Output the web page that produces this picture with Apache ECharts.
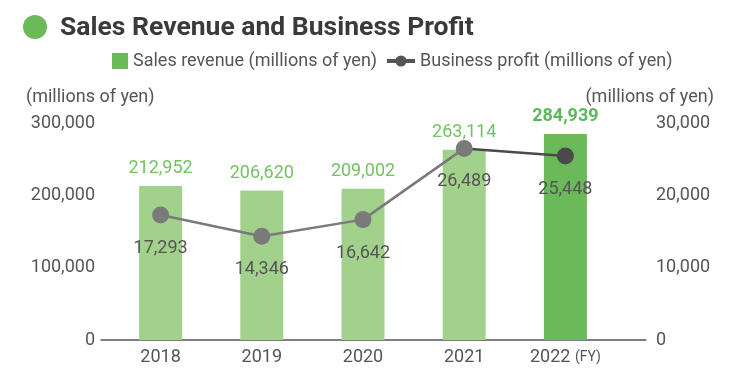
<!DOCTYPE html>
<html>
<head>
<meta charset="utf-8">
<script src="https://cdn.jsdelivr.net/npm/echarts@6/dist/echarts.min.js"></script>
<style>
html,body{margin:0;padding:0;background:#fff;}
#chart{width:741px;height:382px;}
</style>
</head>
<body>
<div id="chart"></div>
<script>
const categories = ['2018', '2019', '2020', '2021', '2022'];
const salesRevenue = [212952, 206620, 209002, 263114, 284939];
const businessProfit = [17293, 14346, 16642, 26489, 25448];
const leftTicks = { min: 0, max: 300000, interval: 100000 };
const rightTicks = { min: 0, max: 30000, interval: 10000 };
const titleText = 'Sales Revenue and Business Profit';
const revenueName = 'Sales revenue (millions of yen)';
const profitName = 'Business profit (millions of yen)';
const unitText = '(millions of yen)';

const FONT = 'Roboto';
const GRAY = '#555555';
const LIGHT_GREEN = '#a2d18c';
const DARK_GREEN = '#6aba5a';
const LINE_GRAY = '#7a7a7a';
const LINE_DARK = '#4a4a4a';

const chart = echarts.init(document.getElementById('chart'));

const last = businessProfit.length - 1;
const barData = salesRevenue.map((v, i) => {
  if (i === last) {
    return { value: v, itemStyle: { color: DARK_GREEN },
      label: { color: '#5cb85c', fontWeight: 'bold' } };
  }
  return v;
});
// earlier years segment (gray) and latest-year segment (dark)
const profitEarly = businessProfit.map((v, i) => (i < last ? v : '-'));
const profitLatest = businessProfit.map((v, i) => {
  if (i === last - 1) return { value: v, symbol: 'none', label: { show: false } };
  if (i === last) return v;
  return '-';
});
const fmt = v => Number(v).toLocaleString('en-US');

chart.setOption({
  backgroundColor: '#fff',
  animation: false,
  textStyle: { fontFamily: FONT },
  title: [
    { text: titleText, left: 55, top: 10,
      textStyle: { fontFamily: FONT, fontSize: 26.5, fontWeight: 'bold', color: '#3a3a3a' } },
    { text: unitText, left: 21, top: 83,
      textStyle: { fontFamily: FONT, fontSize: 18, fontWeight: 'normal', color: GRAY } },
    { text: unitText, right: 22, top: 83,
      textStyle: { fontFamily: FONT, fontSize: 18, fontWeight: 'normal', color: GRAY } }
  ],
  graphic: [
    { type: 'circle', shape: { cx: 35, cy: 27, r: 12 }, style: { fill: DARK_GREEN } }
  ],
  legend: [
    { left: 107, top: 47, itemWidth: 16, itemHeight: 16, icon: 'rect',
      textStyle: { fontFamily: FONT, fontSize: 18, color: GRAY },
      data: [{ name: revenueName, itemStyle: { color: DARK_GREEN } }] },
    { left: 380, top: 47, itemWidth: 28, itemHeight: 14,
      textStyle: { fontFamily: FONT, fontSize: 18, color: GRAY },
      data: [{ name: profitName, itemStyle: { color: '#555' }, lineStyle: { color: '#555', width: 4 } }] }
  ],
  grid: [
    { left: 110, right: 125, top: 123, bottom: 42 },
    { left: 101, right: 95, top: 123, bottom: 42 }
  ],
  xAxis: [
    { type: 'category', gridIndex: 0, data: categories,
      axisLine: { show: false }, axisTick: { show: false },
      axisLabel: { interval: 0, fontFamily: FONT, fontSize: 18, color: GRAY, margin: 8,
        formatter: (v, i) => i === categories.length - 1 ? v + ' {s|(FY)}' : v,
        rich: { s: { fontFamily: FONT, fontSize: 14, color: GRAY } } } },
    { type: 'value', gridIndex: 1, min: 0, max: 1,
      axisLine: { show: true, lineStyle: { color: '#555', width: 1.5 } },
      axisTick: { show: false }, axisLabel: { show: false }, splitLine: { show: false } }
  ],
  yAxis: [
    { type: 'value', gridIndex: 0, position: 'left',
      min: leftTicks.min, max: leftTicks.max, interval: leftTicks.interval,
      axisLine: { show: false }, axisTick: { show: false }, splitLine: { show: false },
      axisLabel: { fontFamily: FONT, fontSize: 18, color: GRAY, margin: 15, formatter: fmt } },
    { type: 'value', gridIndex: 0, position: 'right',
      min: rightTicks.min, max: rightTicks.max, interval: rightTicks.interval,
      axisLine: { show: false }, axisTick: { show: false }, splitLine: { show: false },
      axisLabel: { fontFamily: FONT, fontSize: 18, color: GRAY, margin: 40, formatter: fmt } },
    { type: 'value', gridIndex: 1, show: false, min: 0, max: 1 }
  ],
  series: [
    { name: revenueName, type: 'bar', xAxisIndex: 0, yAxisIndex: 0,
      barWidth: 43, data: barData,
      itemStyle: { color: LIGHT_GREEN },
      label: { show: true, position: 'top', distance: 8,
        fontFamily: FONT, fontSize: 18, color: '#74c262',
        formatter: p => fmt(p.value) } },
    { name: profitName, type: 'line', xAxisIndex: 0, yAxisIndex: 1, z: 3,
      data: profitLatest, symbol: 'circle', symbolSize: 17,
      itemStyle: { color: LINE_DARK }, lineStyle: { width: 2.5, color: LINE_DARK },
      label: { show: true, position: 'bottom', distance: 16,
        fontFamily: FONT, fontSize: 18, color: GRAY,
        formatter: p => fmt(p.value) } },
    { name: profitName, type: 'line', xAxisIndex: 0, yAxisIndex: 1, z: 4,
      data: profitEarly, symbol: 'circle', symbolSize: 17,
      itemStyle: { color: LINE_GRAY }, lineStyle: { width: 2.5, color: LINE_GRAY },
      label: { show: true, position: 'bottom', distance: 16,
        fontFamily: FONT, fontSize: 18, color: GRAY,
        formatter: p => fmt(p.value) } }
  ]
});
</script>
</body>
</html>
